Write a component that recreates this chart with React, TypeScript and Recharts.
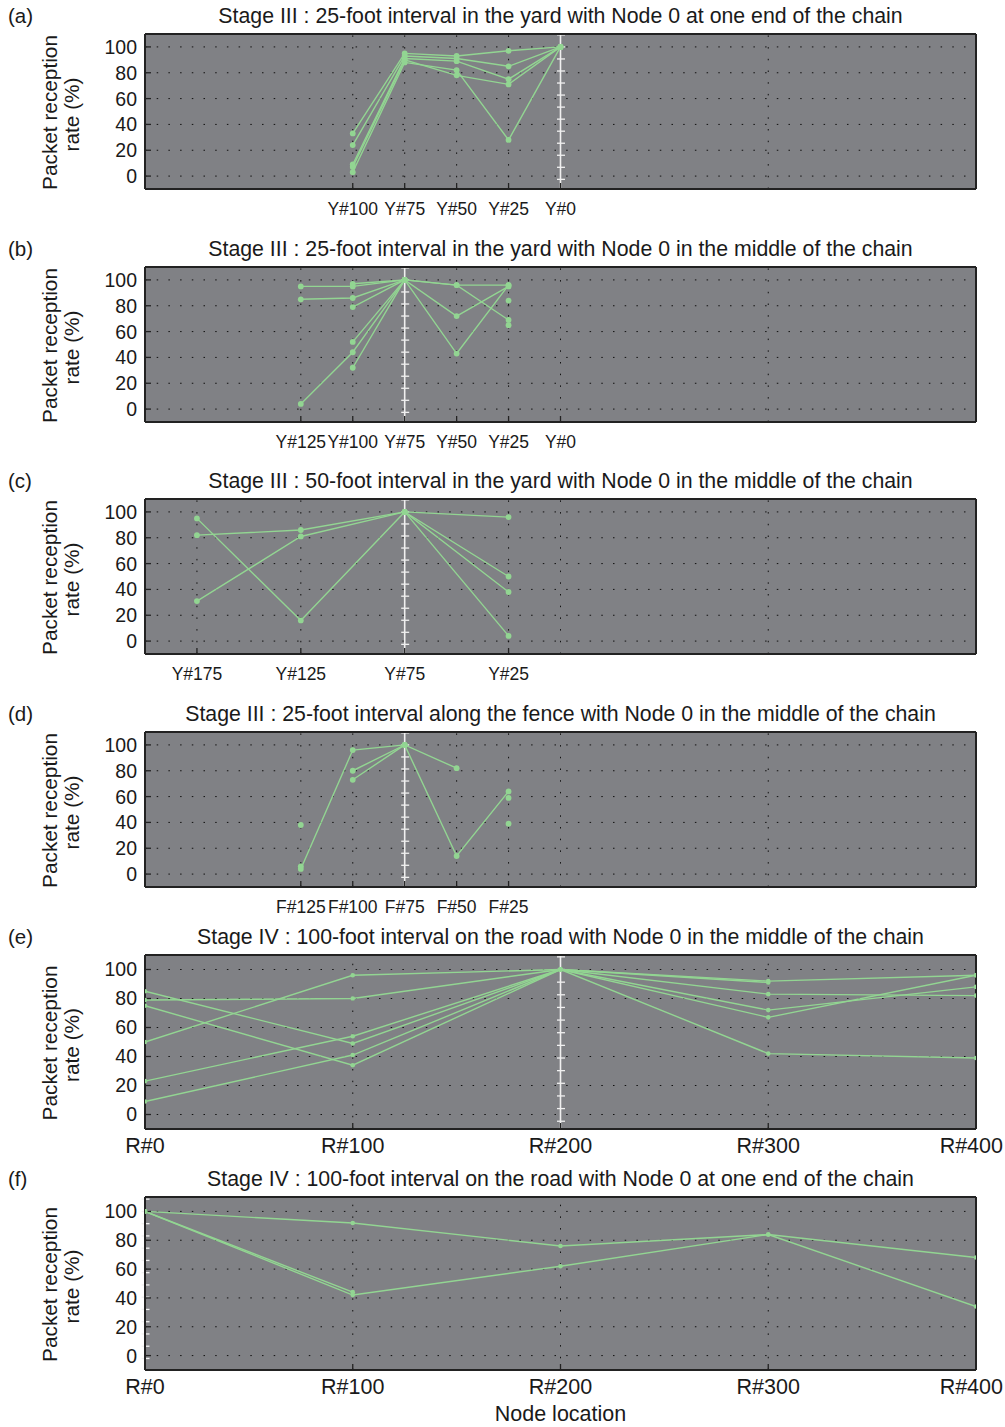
import React from 'react'
import { LineChart, Line, XAxis, YAxis, CartesianGrid, ReferenceLine } from 'recharts'

const GREEN = '#92d592'
const PLOT_BG = '#808185'
const INK = '#1a1a1a'
const FONT = '"Liberation Sans", Arial, Helvetica, sans-serif'

const Y_TICKS = [0, 20, 40, 60, 80, 100]

// (a) 25-foot, yard, node 0 at end
const A_POS = [100, 125, 150, 175, 200]
const A_LABELS = ['Y#100', 'Y#75', 'Y#50', 'Y#25', 'Y#0']
const A_SERIES = [
  [33, 95, 93, 97, 100],
  [24, 93, 91, 85, 100],
  [9, 91, 89, 75, 100],
  [7, 90, 78, 71, 100],
  [3, 88, 82, 28, 100],
]

// (b) 25-foot, yard, node 0 in middle
const B_POS = [75, 100, 125, 150, 175, 200]
const B_LABELS = ['Y#125', 'Y#100', 'Y#75', 'Y#50', 'Y#25', 'Y#0']
const B_SERIES = [
  [95, 95, 100, 96, 96, null],
  [85, 86, 100, 96, 69, null],
  [4, 44, 100, 72, 95, null],
  [null, 97, 100, 43, 96, null],
  [null, 79, 100, null, null, null],
  [null, 52, 100, null, null, null],
  [null, 32, 100, null, null, null],
  [null, null, null, null, 84, null],
  [null, null, null, null, 65, null],
]

// (c) 50-foot, yard, node 0 in middle
const C_POS = [25, 75, 125, 175]
const C_LABELS = ['Y#175', 'Y#125', 'Y#75', 'Y#25']
const C_SERIES = [
  [82, 86, 100, 96],
  [31, 81, 100, 50],
  [95, 16, 100, 38],
  [null, null, 100, 4],
]

// (d) 25-foot, fence, node 0 in middle
const D_POS = [75, 100, 125, 150, 175]
const D_LABELS = ['F#125', 'F#100', 'F#75', 'F#50', 'F#25']
const D_SERIES = [
  [4, 96, 100, 14, 64],
  [null, 80, 100, 82, null],
  [null, 73, 100, null, null],
  [38, null, null, null, null],
  [6, null, null, null, null],
  [null, null, null, null, 59],
  [null, null, null, null, 39],
]

// (e) 100-foot, road, node 0 in middle
const E_POS = [0, 100, 200, 300, 400]
const E_LABELS = ['R#0', 'R#100', 'R#200', 'R#300', 'R#400']
const E_SERIES = [
  [50, 96, 100, 92, 96],
  [79, 80, 100, 91, null],
  [23, 54, 100, 83, 82],
  [85, 49, 100, 72, 88],
  [9, 41, 100, 67, 96],
  [75, 34, 100, 42, 39],
]

// (f) 100-foot, road, node 0 at end
const F_POS = [0, 100, 200, 300, 400]
const F_LABELS = ['R#0', 'R#100', 'R#200', 'R#300', 'R#400']
const F_SERIES = [
  [100, 92, 76, 84, 68],
  [100, 42, 62, 84, 34],
  [100, 44, null, null, null],
]

type PanelDef = {
  letter: string
  title: string
  plotTop: number
  plotH: number
  pos: number[]
  labels: string[]
  series: (number | null)[][]
  nodeZero: number
  step: number
  xFont: number
  xMargin: number
  dotR: number
}

const PANELS: PanelDef[] = [
  { letter: 'a', title: 'Stage III : 25-foot interval in the yard with Node 0 at one end of the chain', plotTop: 34, plotH: 155, pos: A_POS, labels: A_LABELS, series: A_SERIES, nodeZero: 200, step: 9.32, xFont: 17.5, xMargin: 20, dotR: 2.9 },
  { letter: 'b', title: 'Stage III : 25-foot interval in the yard with Node 0 in the middle of the chain', plotTop: 267, plotH: 155, pos: B_POS, labels: B_LABELS, series: B_SERIES, nodeZero: 125, step: 9.32, xFont: 17.5, xMargin: 20, dotR: 2.9 },
  { letter: 'c', title: 'Stage III : 50-foot interval in the yard with Node 0 in the middle of the chain', plotTop: 499, plotH: 155, pos: C_POS, labels: C_LABELS, series: C_SERIES, nodeZero: 125, step: 9.32, xFont: 17.5, xMargin: 20, dotR: 2.9 },
  { letter: 'd', title: 'Stage III : 25-foot interval along the fence with Node 0 in the middle of the chain', plotTop: 732, plotH: 155, pos: D_POS, labels: D_LABELS, series: D_SERIES, nodeZero: 125, step: 9.32, xFont: 17.5, xMargin: 20, dotR: 2.9 },
  { letter: 'e', title: 'Stage IV : 100-foot interval on the road with Node 0 in the middle of the chain', plotTop: 955, plotH: 174, pos: E_POS, labels: E_LABELS, series: E_SERIES, nodeZero: 200, step: 8.72, xFont: 21.5, xMargin: 15, dotR: 2.3 },
  { letter: 'f', title: 'Stage IV : 100-foot interval on the road with Node 0 at one end of the chain', plotTop: 1197, plotH: 173, pos: F_POS, labels: F_LABELS, series: F_SERIES, nodeZero: 0, step: 8.5, xFont: 21.5, xMargin: 15, dotR: 2.3 },
]

const M_TOP = 30
const M_BOTTOM = 40
const PAGE_W = 1005

// white vertical line at node 0 with its little tick marks
function nodeZeroShape(step: number) {
  return (props: any) => {
    const { x1, y1, y2 } = props
    const top = Math.min(y1, y2)
    const bottom = Math.max(y1, y2)
    const k = (bottom - top) / 120
    const marks: number[] = []
    for (let v = 100 + step; v > -10; v -= step) marks.push(bottom - (v + 10) * k)
    return (
      <g>
        <line x1={x1} x2={x1} y1={top} y2={bottom} stroke="#f0f0f0" strokeWidth={1.6} />
        {marks.map((y, i) => (
          <line key={i} x1={x1 - 3.5} x2={x1 + 4.5} y1={y} y2={y} stroke="#f0f0f0" strokeWidth={1.3} />
        ))}
      </g>
    )
  }
}

// x tick label; the one at the far right is kept inside the page
function xTick(p: PanelDef) {
  return (props: any) => {
    const { x, y, payload } = props
    const label = p.labels[p.pos.indexOf(payload.value)]
    const atEdge = x > PAGE_W - 40
    return (
      <text
        x={atEdge ? PAGE_W - 2 : x} y={y} dy="0.71em"
        textAnchor={atEdge ? 'end' : 'middle'} fontSize={p.xFont} fill={INK}
      >
        {label}
      </text>
    )
  }
}

function Panel({ p }: { p: PanelDef }) {
  const data = p.pos.map((x, i) => {
    const row: Record<string, number | null> = { x }
    p.series.forEach((s, k) => { row['s' + k] = s[i] })
    return row
  })
  const vgrid = Array.from(new Set([...p.pos, 100, 200, 300]))
    .filter((v) => v > 0 && v < 400 && v !== p.nodeZero)
    .filter((v) => p.pos.includes(v) || v >= 200)
  const H = M_TOP + p.plotH + M_BOTTOM
  const axisLine = { stroke: '#222', strokeWidth: 2 }
  const tickLine = { stroke: '#222', strokeWidth: 1.3 }
  return (
    <div style={{ position: 'absolute', left: 0, top: p.plotTop - M_TOP, width: PAGE_W, height: H }}>
      <LineChart width={PAGE_W} height={H} data={data} margin={{ top: M_TOP - 1, right: 28, left: 0, bottom: 0 }}>
        <CartesianGrid vertical={false} fill={PLOT_BG} fillOpacity={1} stroke="#111" strokeDasharray="1.5 10.2" />
        <XAxis
          dataKey="x" type="number" domain={[0, 400]} ticks={p.pos} interval={0} allowDataOverflow
          height={M_BOTTOM} tickSize={-6} tickMargin={p.xMargin}
          axisLine={axisLine} tickLine={tickLine}
          tick={xTick(p)}
        />
        <XAxis
          xAxisId="top" dataKey="x" orientation="top" type="number" domain={[0, 400]} ticks={p.pos} interval={0} allowDataOverflow
          height={1} tickSize={-6} tick={false} axisLine={axisLine} tickLine={tickLine}
        />
        <YAxis
          type="number" domain={[-10, 110]} ticks={Y_TICKS} interval={0} allowDataOverflow
          width={145} tickSize={-6} tickMargin={14}
          axisLine={axisLine} tickLine={tickLine}
          tick={{ fontSize: 19.5, fill: INK }}
        />
        <YAxis
          yAxisId="right" orientation="right" type="number" domain={[-10, 110]} ticks={Y_TICKS} interval={0} allowDataOverflow
          width={1} tickSize={-6} tick={false} axisLine={axisLine} tickLine={tickLine}
        />
        {vgrid.map((v) => (
          <ReferenceLine key={v} x={v} stroke="#111" strokeDasharray="1.5 10.2" />
        ))}
        <ReferenceLine x={p.nodeZero} shape={nodeZeroShape(p.step)} />
        {/* invisible series tied to the frame axes on top and right */}
        <Line
          xAxisId="top" yAxisId="right" dataKey="s0" stroke="none" dot={false} activeDot={false}
          isAnimationActive={false}
        />
        {p.series.map((_, k) => (
          <Line
            key={k} dataKey={'s' + k} type="linear" stroke={GREEN} strokeWidth={1.4}
            dot={{ r: p.dotR, fill: GREEN, stroke: 'none' }} activeDot={false}
            connectNulls={false} isAnimationActive={false}
          />
        ))}
      </LineChart>
    </div>
  )
}

function Labels() {
  return (
    <svg width={PAGE_W} height={1427} style={{ position: 'absolute', left: 0, top: 0, pointerEvents: 'none' }}>
      {PANELS.map((p) => {
        const cy = p.plotTop + p.plotH / 2
        return (
          <g key={p.letter} fill={INK}>
            <text x={8} y={p.plotTop - 11} fontSize={20.5}>({p.letter})</text>
            <text x={560.5} y={p.plotTop - 11} fontSize={21.3} textAnchor="middle">{p.title}</text>
            <text transform={`translate(57, ${cy + 1}) rotate(-90)`} fontSize={20.8} textAnchor="middle">Packet reception</text>
            <text transform={`translate(79, ${cy + 3}) rotate(-90)`} fontSize={20.8} textAnchor="middle">rate (%)</text>
          </g>
        )
      })}
      <text x={560.5} y={1421} fontSize={21.5} textAnchor="middle" fill={INK}>Node location</text>
    </svg>
  )
}

export default function App() {
  return (
    <div style={{ position: 'absolute', left: 0, top: 0, width: PAGE_W, height: 1427, background: '#fff', fontFamily: FONT, color: INK }}>
      {PANELS.map((p) => <Panel key={p.letter} p={p} />)}
      <Labels />
    </div>
  )
}
